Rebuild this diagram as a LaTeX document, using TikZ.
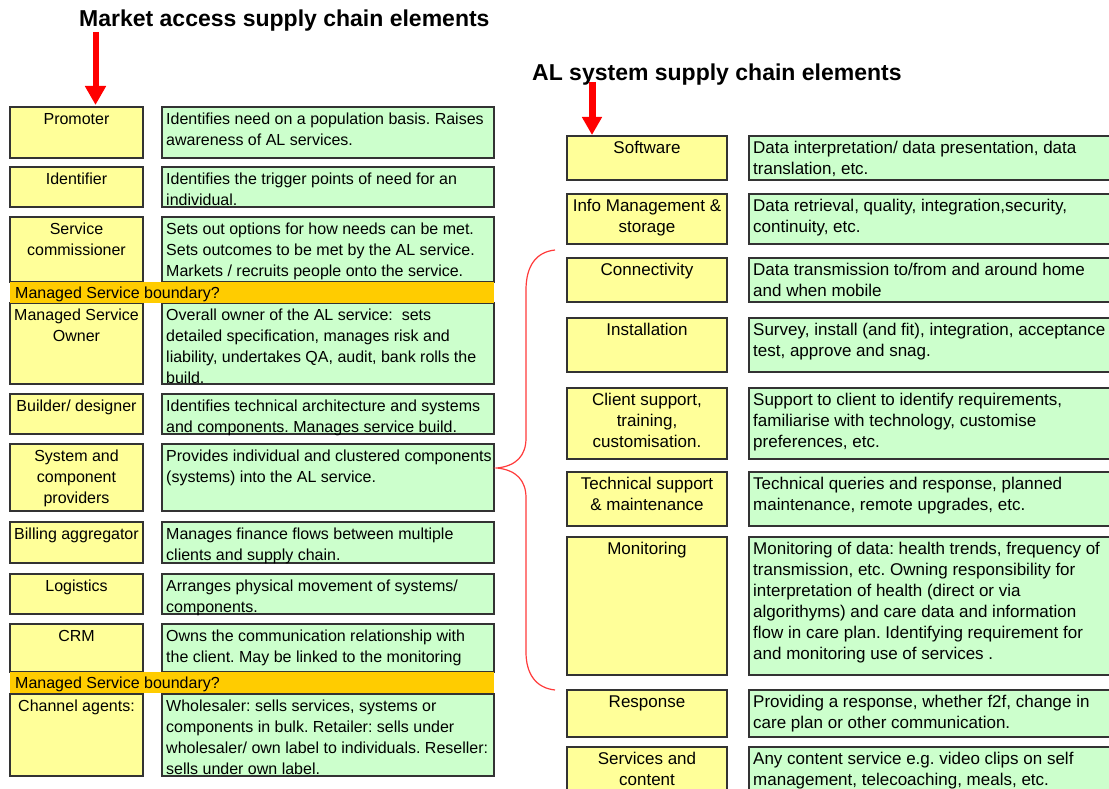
\documentclass[tikz,border=0pt]{standalone}
\usepackage{fontspec}
\setmainfont{Liberation Sans}
\usetikzlibrary{arrows.meta,calc}

\definecolor{roleyellow}{HTML}{FFFF99}
\definecolor{infogreen}{HTML}{CCFFCC}
\definecolor{bandorange}{HTML}{FFCC00}
\definecolor{edgegray}{HTML}{333333}
\definecolor{arrowred}{HTML}{FF0000}
\definecolor{bracered}{HTML}{FF3B3B}

\tikzset{
  cellbox/.style={draw=edgegray, line width=1.4pt, anchor=north west,
    inner sep=0pt, outer sep=0pt},
  rolebox/.style={cellbox, fill=roleyellow},
  infobox/.style={cellbox, fill=infogreen},
  lefttext/.style={font=\fontsize{16}{21}\selectfont},
  righttext/.style={font=\fontsize{17}{21}\selectfont},
  roletext/.style={anchor=north, inner sep=0pt, align=center},
  infotext/.style={anchor=north west, inner sep=0pt, align=left},
  bandbox/.style={fill=bandorange, draw=none, anchor=north west,
    inner sep=0pt, minimum width=484pt, minimum height=21pt},
  bandtext/.style={lefttext, anchor=base west, inner sep=0pt},
  headline/.style={anchor=base west, inner sep=0pt,
    font=\fontsize{23}{27}\selectfont\bfseries},
}

% strut that fixes the height of the first text line in every box
\newcommand\firstline{\rule{0pt}{13pt}}

% one box: #1 name, #2 style, #3 left, #4 top, #5 bottom, #6 width
\newcommand\chaincell[6]{%
  \node[#2, minimum width=#6pt, minimum height=#5pt-#4pt] (#1) at (#3,#4) {};}

% a row of the market access column: name, top, bottom, role, description
\newcommand\marketrow[5]{%
  \chaincell{#1}{rolebox}{10}{#2}{#3}{133}
  \chaincell{#1d}{infobox}{162}{#2}{#3}{332}
  \node[roletext, lefttext] (#1-t) at ($(#1.north)+(0,4)$) {\firstline#4};
  \node[infotext, lefttext] (#1d-t) at ($(#1d.north west)+(4,4)$) {\firstline#5};}

% a row of the AL system column: name, top, bottom, role, description
\newcommand\systemrow[5]{%
  \chaincell{#1}{rolebox}{567}{#2}{#3}{160}
  \chaincell{#1d}{infobox}{749}{#2}{#3}{372}
  \node[roletext, righttext] (#1-t) at ($(#1.north)+(0,4)$) {\firstline#4};
  \node[infotext, righttext] (#1d-t) at ($(#1d.north west)+(4,4)$) {\firstline#5};}

\frenchspacing

\begin{document}
\begin{tikzpicture}[x=1pt, y=-1pt]
\useasboundingbox (0,0) rectangle (1109,789);
\clip (0,0) rectangle (1109,789);
\fill[white] (0,0) rectangle (1109,789);

% ---------- market access supply chain ----------
\node[headline] (mtitle) at (79,27) {Market access supply chain elements};

\marketrow{p1}{107}{158}{Promoter}
  {Identifies need on a population basis. Raises\\awareness of AL services.}
\marketrow{p2}{167}{207}{Identifier}
  {Identifies the trigger points of need for an\\individual.}
\marketrow{p3}{217}{282}{Service\\commissioner}
  {Sets out options for how needs can be met.\\Sets outcomes to be met by the AL service.\\Markets / recruits people onto the service.}
\marketrow{p4}{303}{384}{Managed Service\\Owner}
  {Overall owner of the AL service:\ \ sets\\detailed specification, manages risk and\\liability, undertakes QA, audit, bank rolls the\\build.}
\marketrow{p5}{394}{434}{Builder/ designer}
  {Identifies technical architecture and systems\\and components. Manages service build.}
\marketrow{p6}{444}{511}{System and\\component\\providers}
  {Provides individual and clustered components\\(systems) into the AL service.}
\marketrow{p7}{522}{563}{Billing aggregator}
  {Manages finance flows between multiple\\clients and supply chain.}
\marketrow{p8}{574}{614}{Logistics}
  {Arranges physical movement of systems/\\components.}
\marketrow{p9}{624}{672}{CRM}
  {Owns the communication relationship with\\the client. May be linked to the monitoring}
\marketrow{p10}{694}{776}{Channel agents:}
  {Wholesaler: sells services, systems or\\components in bulk. Retailer: sells under\\wholesaler/ own label to individuals. Reseller:\\sells under own label.}

% managed service boundaries
\node[bandbox] (band1) at (10,282) {};
\node[bandtext] (band1-t) at (15,298) {Managed Service boundary?};
\node[bandbox] (band2) at (10,672) {};
\node[bandtext] (band2-t) at (15,688) {Managed Service boundary?};

\coordinate (marrow) at (95.5,32);
\draw[arrowred, line width=6pt, -{Triangle[width=20pt,length=19pt]}, shorten >=2pt]
  (marrow) -- (marrow |- p1.north);

% ---------- AL system supply chain ----------
\node[headline] (stitle) at (532,81) {AL system supply chain elements};

\systemrow{q1}{136}{180}{Software}
  {Data interpretation/ data presentation, data\\translation, etc.}
\systemrow{q2}{194}{244}{Info Management \&\\storage}
  {Data retrieval, quality, integration,security,\\continuity, etc.}
\systemrow{q3}{258}{302}{Connectivity}
  {Data transmission to/from and around home\\and when mobile}
\systemrow{q4}{318}{372}{Installation}
  {Survey, install (and fit), integration, acceptance\\test, approve and snag.}
\systemrow{q5}{388}{459}{Client support,\\training,\\customisation.}
  {Support to client to identify requirements,\\familiarise with technology, customise\\preferences, etc.}
\systemrow{q6}{472}{526}{Technical support\\\& maintenance}
  {Technical queries and response, planned\\maintenance, remote upgrades, etc.}
\systemrow{q7}{537}{675}{Monitoring}
  {Monitoring of data: health trends, frequency of\\transmission, etc. Owning responsibility for\\interpretation of health (direct or via\\algorithyms) and care data and information\\flow in care plan. Identifying requirement for\\and monitoring use of services .}
\systemrow{q8}{690}{737}{Response}
  {Providing a response, whether f2f, change in\\care plan or other communication.}
\systemrow{q9}{747}{800}{Services and\\content}
  {Any content service e.g. video clips on self\\management, telecoaching, meals, etc.}

\coordinate (sarrow) at (592,82);
\draw[arrowred, line width=7pt, -{Triangle[width=19pt,length=18pt]}, shorten >=1pt]
  (sarrow) -- (sarrow |- q1.north);

% brace grouping connectivity to monitoring
\draw[bracered, line width=1.2pt]
  (555,250) .. controls (536,252) and (526,266) .. (526,290)
  -- (526,438) .. controls (526,456) and (516,466) .. (497,468)
  .. controls (516,470) and (526,480) .. (526,498)
  -- (526,652) .. controls (526,674) and (536,688) .. (555,690);
\end{tikzpicture}
\end{document}
